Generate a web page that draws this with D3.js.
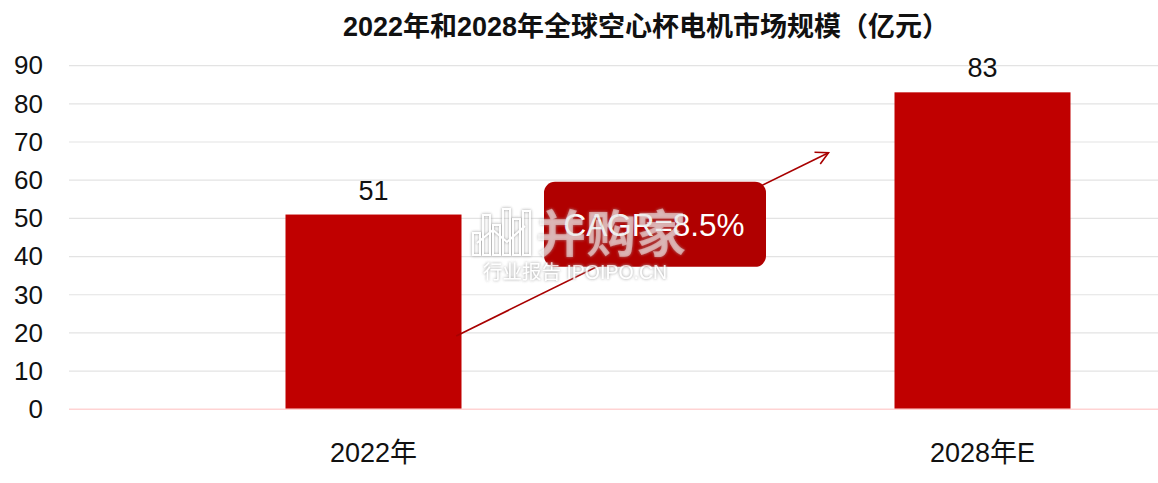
<!DOCTYPE html>
<html>
<head>
<meta charset="utf-8">
<script src="https://cdn.jsdelivr.net/npm/d3@7/dist/d3.min.js"></script>
<style>
  html, body { margin: 0; padding: 0; background: #fff; }
  svg { display: block; }
  text { font-family: "Liberation Sans", Arial, "Noto Sans CJK SC", sans-serif; }
</style>
</head>
<body>
<svg id="chart" width="1158" height="483"></svg>
<script>
// ---- data ----
const title = "2022年和2028年全球空心杯电机市场规模（亿元）";
const categories = ["2022年", "2028年E"];
const values = [51, 83];
const yTicks = [0, 10, 20, 30, 40, 50, 60, 70, 80, 90];
const cagrLabel = "CAGR=8.5%";
const arrowFromValue = 19.2;   // y-value where the growth arrow starts
const arrowToValue = 67.2;     // y-value where the growth arrow ends
const boxTopValue = 59.6;
const boxBottomValue = 37.3;
const watermarkMain = "并购家";
const watermarkSub = "行业报告 IPOIPO.CN";

// ---- layout ----
const W = 1158, H = 483;
const svg = d3.select("#chart");

const x = d3.scaleBand()
  .domain(categories)
  .range([69, 1287])
  .paddingInner(0.711)
  .paddingOuter(0.3555);

const y = d3.scaleLinear().domain([0, 90]).range([409.3, 65.6]);

// defs: watermark shadow filter
const defs = svg.append("defs");
const f = defs.append("filter").attr("id", "wm").attr("x", "-20%").attr("y", "-20%").attr("width", "140%").attr("height", "140%");
f.append("feGaussianBlur").attr("in", "SourceAlpha").attr("stdDeviation", 1.8).attr("result", "b");
f.append("feColorMatrix").attr("in", "b").attr("type", "matrix")
  .attr("values", "0 0 0 0 0.4  0 0 0 0 0.4  0 0 0 0 0.4  0 0 0 1.4 0").attr("result", "s");
const fm = f.append("feMerge");
fm.append("feMergeNode").attr("in", "s");
fm.append("feMergeNode").attr("in", "SourceGraphic");

// gridlines
svg.append("g").selectAll("line")
  .data(yTicks.filter(d => d !== 0))
  .join("line")
  .attr("x1", 69).attr("x2", W)
  .attr("y1", d => y(d)).attr("y2", d => y(d))
  .attr("stroke", "#e3e3e3").attr("stroke-width", 1.2);

// y axis labels
const yAxis = d3.axisLeft(y).tickValues(yTicks).tickSize(0).tickPadding(0);
const ya = svg.append("g").attr("transform", "translate(43,0)").call(yAxis);
ya.select(".domain").remove();
ya.selectAll("text")
  .attr("font-size", 26).attr("fill", "#111")
  .attr("font-family", "'Liberation Sans', Arial, sans-serif");

// bars
svg.append("g").selectAll("rect")
  .data(values)
  .join("rect")
  .attr("x", (d, i) => x(categories[i]))
  .attr("width", x.bandwidth())
  .attr("y", d => y(d))
  .attr("height", d => y(0) - y(d))
  .attr("fill", "#c00000");

// baseline
svg.append("line")
  .attr("x1", 69).attr("x2", W)
  .attr("y1", y(0)).attr("y2", y(0))
  .attr("stroke", "#ffd3d3").attr("stroke-width", 1.6);

// value labels
svg.append("g").selectAll("text")
  .data(values)
  .join("text")
  .attr("x", (d, i) => x(categories[i]) + x.bandwidth() / 2)
  .attr("y", d => y(d) - 15)
  .attr("text-anchor", "middle")
  .attr("font-size", 27).attr("fill", "#111")
  .text(d => d);

// category labels
const xAxis = d3.axisBottom(x).tickSize(0).tickPadding(0);
const xa = svg.append("g").call(xAxis);
xa.select(".domain").remove();
xa.selectAll("text")
  .attr("y", 462).attr("dy", null)
  .attr("font-size", 27).attr("fill", "#111");

// growth arrow
const ax1 = x(categories[0]) + x.bandwidth() * 0.97;
const ay1 = y(arrowFromValue);
const ax2 = x(categories[1]) - x.bandwidth() * 0.375;
const ay2 = y(arrowToValue);
const ang = Math.atan2(ay2 - ay1, ax2 - ax1);
const headLen = 14, headAng = Math.PI / 6.5;
svg.append("line")
  .attr("x1", ax1).attr("y1", ay1).attr("x2", ax2).attr("y2", ay2)
  .attr("stroke", "#a80000").attr("stroke-width", 1.6);
svg.append("path")
  .attr("d", d3.line()([
    [ax2 - headLen * Math.cos(ang - headAng), ay2 - headLen * Math.sin(ang - headAng)],
    [ax2, ay2],
    [ax2 - headLen * Math.cos(ang + headAng), ay2 - headLen * Math.sin(ang + headAng)]
  ]))
  .attr("fill", "none").attr("stroke", "#a80000").attr("stroke-width", 1.6)
  .attr("stroke-linejoin", "miter");

// CAGR box
const bx = x(categories[0]) + x.bandwidth() + 82.5;
const bw = 222;
const by = y(boxTopValue), bh = y(boxBottomValue) - y(boxTopValue);
svg.append("rect")
  .attr("x", bx).attr("y", by).attr("width", bw).attr("height", bh)
  .attr("rx", 11).attr("ry", 11)
  .attr("fill", "#b00000");
svg.append("text")
  .attr("x", bx + bw / 2 - 1).attr("y", by + bh / 2).attr("dy", "0.36em")
  .attr("text-anchor", "middle")
  .attr("font-size", 31.5).attr("fill", "#fff")
  .text(cagrLabel);

// watermark
const wm = svg.append("g").attr("filter", "url(#wm)").attr("opacity", 0.85);
const iconX = 473, iconBase = 255;
const iconBars = [[0, 22], [10, 40], [20, 30], [30, 46], [40, 36], [50, 44]];
wm.append("g").selectAll("rect")
  .data(iconBars)
  .join("rect")
  .attr("x", d => iconX + d[0]).attr("y", d => iconBase - d[1])
  .attr("width", 7).attr("height", d => d[1])
  .attr("fill", "none").attr("stroke", "#fff").attr("stroke-width", 2);
wm.append("path")
  .attr("d", d3.line()([[iconX + 4, 243], [iconX + 20, 230], [iconX + 34, 242], [iconX + 52, 226]]))
  .attr("fill", "none").attr("stroke", "#fff").attr("stroke-width", 2);
wm.append("text")
  .attr("x", 536).attr("y", 252)
  .attr("font-family", "'Noto Sans CJK SC', sans-serif")
  .attr("font-weight", "bold").attr("font-size", 50)
  .attr("fill", "rgba(255,255,255,0.6)")
  .text(watermarkMain);
wm.append("text")
  .attr("x", 483).attr("y", 279)
  .attr("font-family", "'Liberation Sans', Arial, 'Noto Sans CJK SC', sans-serif")
  .attr("font-size", 19.5)
  .attr("fill", "#fff")
  .text(watermarkSub);

// title
svg.append("text")
  .attr("x", 646).attr("y", 36)
  .attr("text-anchor", "middle")
  .attr("font-weight", "bold").attr("font-size", 27).attr("fill", "#111")
  .text(title);
</script>
</body>
</html>
